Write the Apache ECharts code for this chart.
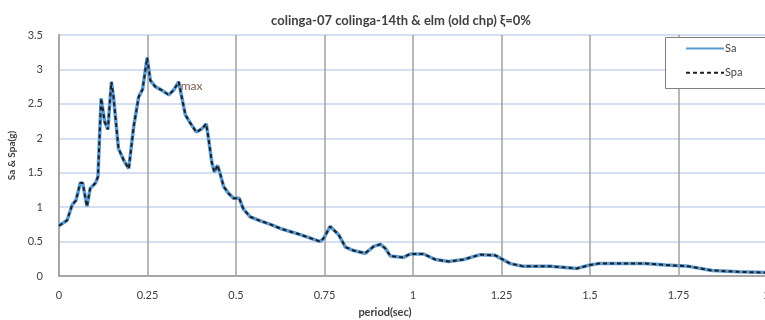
<!DOCTYPE html>
<html>
<head>
<meta charset="utf-8">
<script src="https://cdn.jsdelivr.net/npm/echarts@6/dist/echarts.min.js"></script>
<style>
  html, body { margin: 0; padding: 0; background: #fff; }
  #chart { width: 765px; height: 320px; }
</style>
</head>
<body>
<div id="chart"></div>
<script>
// Response spectrum: period (sec) against spectral acceleration (g)
const periods = [
  0, 0.023, 0.037, 0.048, 0.060, 0.067, 0.079, 0.088, 0.103, 0.110,
  0.119, 0.129, 0.138, 0.148, 0.154, 0.168, 0.183, 0.197, 0.211, 0.225,
  0.236, 0.244, 0.249, 0.258, 0.272, 0.290, 0.310, 0.324, 0.338, 0.357,
  0.371, 0.388, 0.404, 0.416, 0.423, 0.432, 0.439, 0.448, 0.456, 0.465,
  0.479, 0.493, 0.509, 0.521, 0.540, 0.569, 0.597, 0.625, 0.682, 0.738,
  0.748, 0.766, 0.790, 0.809, 0.832, 0.865, 0.889, 0.908, 0.922, 0.936,
  0.973, 0.992, 1.030, 1.063, 1.101, 1.143, 1.190, 1.232, 1.275, 1.312,
  1.388, 1.463, 1.500, 1.524, 1.581, 1.656, 1.713, 1.779, 1.845, 1.920,
  2.000
];
const saValues = [
  0.73, 0.81, 1.03, 1.10, 1.35, 1.35, 1.01, 1.27, 1.35, 1.44,
  2.58, 2.24, 2.13, 2.82, 2.60, 1.85, 1.68, 1.56, 2.17, 2.60,
  2.71, 2.99, 3.17, 2.84, 2.75, 2.70, 2.63, 2.70, 2.82, 2.34,
  2.22, 2.09, 2.14, 2.21, 1.97, 1.64, 1.51, 1.61, 1.47, 1.30,
  1.20, 1.13, 1.13, 0.97, 0.86, 0.80, 0.75, 0.69, 0.60, 0.50,
  0.55, 0.72, 0.60, 0.42, 0.37, 0.33, 0.43, 0.46, 0.40, 0.29,
  0.27, 0.32, 0.32, 0.24, 0.21, 0.24, 0.31, 0.30, 0.18, 0.14,
  0.14, 0.11, 0.16, 0.18, 0.18, 0.18, 0.16, 0.14, 0.08, 0.06,
  0.05
];
// Pseudo-spectral acceleration coincides with Sa at zero damping
const spaValues = saValues.slice();

// Index of the point tagged "max"
const maxLabelIndex = 28;

const xTicks = { min: 0, max: 2, step: 0.25 };
const yTicks = { min: 0, max: 3.5, step: 0.5 };

const labelFont = 'Lato, "Liberation Sans", sans-serif';

function pairs(xs, ys) {
  return xs.map((x, i) => [x, ys[i]]);
}

const chart = echarts.init(document.getElementById('chart'), null, { renderer: 'canvas' });

chart.setOption({
  animation: false,
  backgroundColor: '#ffffff',
  title: {
    text: 'colinga-07 colinga-14th & elm (old chp) \u03BE=0%',
    left: 396,
    textAlign: 'center',
    top: 9,
    textStyle: {
      fontFamily: labelFont,
      fontWeight: 'bold',
      fontSize: 13,
      color: '#404040'
    }
  },
  // legend frame, open on the right where it runs off the canvas
  graphic: [
    {
      type: 'rect',
      x: 665.5,
      y: 37.5,
      z: 90,
      shape: { x: 0, y: 0, width: 110, height: 51 },
      style: { fill: '#ffffff' }
    },
    {
      type: 'polyline',
      z: 91,
      shape: { points: [[780, 37.5], [665.5, 37.5], [665.5, 88.5], [780, 88.5]] },
      style: { fill: null, stroke: '#808080', lineWidth: 1 }
    }
  ],
  legend: {
    orient: 'vertical',
    left: 665,
    top: 37,
    z: 100,
    padding: [6, 10, 8, 20],
    itemGap: 13,
    itemWidth: 38,
    itemHeight: 14,
    itemStyle: { opacity: 0 },
    textStyle: { fontFamily: labelFont, fontSize: 11, color: '#404040', padding: [0, 0, 0, -4] },
    data: ['Sa', 'Spa']
  },
  grid: {
    left: 59,
    top: 35,
    width: 708,
    bottom: 44,
    outerBoundsMode: 'none',
    containLabel: false
  },
  xAxis: {
    type: 'value',
    min: xTicks.min,
    max: xTicks.max,
    interval: xTicks.step,
    name: 'period(sec)',
    nameLocation: 'middle',
    nameGap: 31,
    nameTextStyle: {
      fontFamily: labelFont,
      fontWeight: 'bold',
      fontSize: 11,
      color: '#404040',
      padding: [0, 56, 0, 0]
    },
    axisLine: { show: true, lineStyle: { color: '#a6a6a6', width: 2 } },
    axisTick: { show: false },
    axisLabel: {
      margin: 14,
      fontFamily: labelFont,
      fontSize: 11,
      color: '#404040'
    },
    splitLine: { show: true, lineStyle: { color: '#a0a0a0', width: 1.5 } }
  },
  yAxis: {
    type: 'value',
    min: yTicks.min,
    max: yTicks.max,
    interval: yTicks.step,
    name: 'Sa & Spa(g)',
    nameLocation: 'middle',
    nameGap: 42,
    nameTextStyle: {
      fontFamily: labelFont,
      fontWeight: 'bold',
      fontSize: 10,
      color: '#404040'
    },
    axisLine: { show: true, lineStyle: { color: '#a6a6a6', width: 2 } },
    axisTick: { show: false },
    axisLabel: {
      margin: 16,
      fontFamily: labelFont,
      fontSize: 11,
      color: '#404040'
    },
    splitLine: { show: true, lineStyle: { color: '#c9d5ec', width: 1.5 } }
  },
  series: [
    {
      name: 'Sa',
      type: 'line',
      symbol: 'none',
      data: pairs(periods, saValues),
      color: '#5b9bd5',
      lineStyle: { color: '#5b9bd5', width: 3.5 },
      z: 2
    },
    {
      name: 'Spa',
      type: 'line',
      symbol: 'none',
      data: pairs(periods, spaValues),
      color: '#1f1f1f',
      lineStyle: { color: '#1f1f1f', width: 2, type: [4, 3] },
      z: 3,
      markPoint: {
        symbol: 'circle',
        symbolSize: 0,
        silent: true,
        data: [{
          coord: [periods[maxLabelIndex], spaValues[maxLabelIndex]]
        }],
        label: {
          show: true,
          formatter: 'max',
          position: 'right',
          distance: 2,
          offset: [0, 4],
          color: '#7a5a48',
          fontSize: 12,
          fontFamily: labelFont
        }
      }
    }
  ]
});
</script>
</body>
</html>
